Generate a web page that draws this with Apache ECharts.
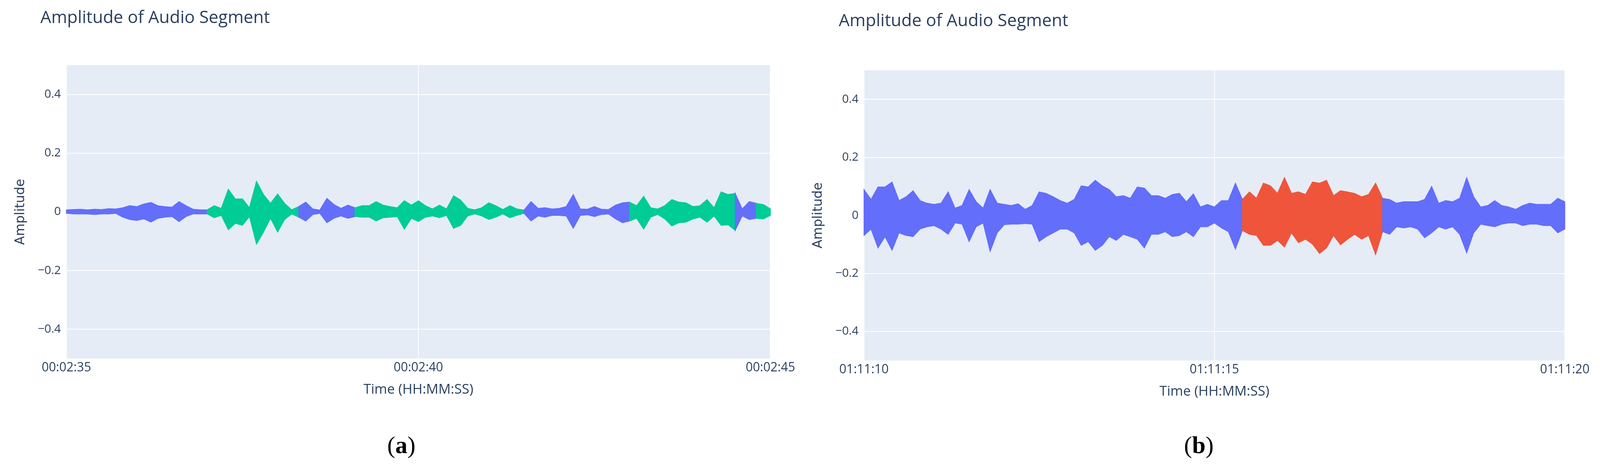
<!DOCTYPE html>
<html>
<head>
<meta charset="utf-8">
<script src="https://cdn.jsdelivr.net/npm/echarts@6/dist/echarts.min.js"></script>
<style>
  html, body { margin: 0; padding: 0; background: #fff; overflow: hidden; }
  #main { width: 100vw; height: 100vh; }
</style>
</head>
<body>
<div id="main"></div>
<script>
// sample times in seconds from the start of each window (0.1 s steps)
var times = [];
for (var i = 0; i <= 100; i++) times.push(+(i / 10).toFixed(1));

// panel (a): envelope
var upperA = [.007,.008,.009,.007,.009,.008,.011,.010,.014,.021,.018,.027,.032,.021,.018,.016,.035,.021,.009,.007,
  .007,.021,.012,.077,.044,.044,.014,.104,.059,.029,.061,.029,.007,.018,.033,.010,.006,.046,.025,.012,
  .023,.014,.021,.021,.035,.023,.018,.014,.038,.023,.038,.021,.010,.023,.010,.055,.040,.012,.007,.014,
  .031,.021,.008,.021,.010,.006,.035,.012,.014,.010,.012,.018,.059,.010,.009,.018,.009,.008,.023,.031,
  .033,.021,.053,.014,.010,.021,.042,.033,.031,.018,.021,.042,.014,.068,.059,.063,.010,.035,.029,.025,.010];
var lowerA = [-.005,-.007,-.007,-.007,-.009,-.007,-.007,-.005,-.018,-.026,-.029,-.024,-.035,-.022,-.018,-.016,-.033,-.016,-.007,-.007,
  -.007,-.020,-.012,-.061,-.039,-.046,-.016,-.110,-.069,-.022,-.069,-.026,-.007,-.018,-.031,-.009,-.005,-.037,-.022,-.014,
  -.022,-.016,-.018,-.018,-.031,-.020,-.018,-.016,-.059,-.022,-.033,-.018,-.014,-.020,-.012,-.056,-.046,-.014,-.007,-.014,
  -.026,-.018,-.007,-.020,-.012,-.005,-.031,-.014,-.018,-.012,-.012,-.014,-.056,-.012,-.010,-.016,-.009,-.007,-.024,-.037,
  -.031,-.022,-.059,-.018,-.009,-.024,-.048,-.037,-.035,-.024,-.018,-.035,-.014,-.046,-.044,-.063,-.014,-.026,-.022,-.024,-.012];
// [start, end, colour index] in seconds
var segmentsA = [[0, 2.0, 0], [2.0, 3.3, 1], [3.3, 4.1, 0], [4.1, 6.5, 1], [6.5, 8.0, 0], [8.0, 9.5, 1], [9.5, 9.8, 0], [9.8, 10, 1]];
var ticksA = ['00:02:35', '00:02:40', '00:02:45'];

// panel (b)
var upperB = [.089,.055,.098,.098,.115,.051,.064,.085,.051,.042,.038,.042,.081,.025,.034,.089,.047,.025,.089,.042,
  .038,.034,.040,.021,.034,.081,.076,.064,.051,.042,.055,.102,.098,.121,.102,.089,.064,.068,.059,.098,
  .094,.068,.068,.059,.072,.076,.047,.074,.029,.038,.029,.051,.051,.111,.055,.081,.059,.111,.102,.076,
  .130,.076,.081,.072,.115,.111,.121,.068,.085,.081,.076,.064,.072,.111,.059,.055,.042,.047,.047,.047,
  .055,.100,.042,.051,.047,.059,.130,.064,.029,.034,.051,.034,.029,.021,.034,.042,.038,.038,.038,.059,.047];
var lowerB = [-.069,-.047,-.112,-.073,-.120,-.060,-.069,-.073,-.047,-.039,-.035,-.047,-.065,-.026,-.030,-.090,-.039,-.026,-.124,-.060,
  -.032,-.030,-.030,-.028,-.030,-.090,-.073,-.060,-.047,-.047,-.060,-.103,-.090,-.120,-.103,-.073,-.086,-.065,-.073,-.082,
  -.112,-.065,-.065,-.056,-.073,-.069,-.056,-.073,-.039,-.039,-.026,-.043,-.056,-.116,-.052,-.065,-.069,-.103,-.103,-.086,
  -.109,-.060,-.094,-.082,-.099,-.131,-.112,-.069,-.101,-.082,-.065,-.082,-.069,-.135,-.056,-.065,-.039,-.043,-.039,-.047,
  -.077,-.060,-.039,-.047,-.039,-.065,-.129,-.060,-.030,-.035,-.039,-.030,-.026,-.026,-.035,-.030,-.030,-.035,-.035,-.060,-.047];
var segmentsB = [[0, 5.4, 0], [5.4, 7.4, 2], [7.4, 10, 0]];
var ticksB = ['01:11:10', '01:11:15', '01:11:20'];

var colors = ['#636efa', '#00cc96', '#ef553b'];
var yTicks = [-0.4, -0.2, 0, 0.2, 0.4];
var textColor = '#2a3f5f';

var chartDom = document.getElementById('main');
var myChart = echarts.init(chartDom);

// one filled band (upper envelope forward, lower envelope back) per coloured segment
function bandSeries(upper, lower, segments, gi) {
  return {
    type: 'custom', xAxisIndex: gi, yAxisIndex: gi, silent: true,
    data: segments.map(function (s) { return [s[0], s[1], s[2]]; }),
    encode: { x: [0, 1], y: -1 },
    renderItem: function (params, api) {
      var seg = segments[params.dataIndex];
      var top = [], bot = [];
      times.forEach(function (t, i) {
        if (t >= seg[0] - 1e-9 && t <= seg[1] + 1e-9) {
          top.push(api.coord([t, upper[i]]));
          bot.unshift(api.coord([t, lower[i]]));
        }
      });
      var c = colors[seg[2]];
      return {
        type: 'polygon',
        shape: { points: top.concat(bot) },
        style: { fill: c, stroke: c, lineWidth: 2 }
      };
    }
  };
}

function xAxis(gi, labels) {
  return {
    type: 'value', gridIndex: gi, min: 0, max: 10, interval: 5,
    name: 'Time (HH:MM:SS)', nameLocation: 'middle', nameGap: 62,
    nameTextStyle: { color: textColor, fontSize: 35, fontFamily: 'Open Sans' },
    axisLine: { show: false }, axisTick: { show: false },
    axisLabel: {
      color: textColor, fontSize: 32, fontFamily: 'Open Sans', margin: 8,
      formatter: function (v) { return labels[Math.round(v / 5)]; }
    },
    splitLine: { lineStyle: { color: '#fff', width: 2 } }
  };
}

function yAxis(gi) {
  return {
    type: 'value', gridIndex: gi, min: -0.5, max: 0.5,
    name: 'Amplitude', nameLocation: 'middle', nameGap: 100,
    nameTextStyle: { color: textColor, fontSize: 33, fontFamily: 'DejaVu Sans' },
    axisLine: { show: false },
    axisTick: { show: false, customValues: yTicks },
    axisLabel: {
      color: textColor, fontSize: 30, fontFamily: 'Open Sans', margin: 14,
      customValues: yTicks,
      formatter: function (v) { return v === 0 ? '0' : (v < 0 ? '\u2212' + Math.abs(v) : '' + v); }
    },
    splitLine: { lineStyle: { color: '#fff', width: 2 } }
  };
}

var option = {
  backgroundColor: '#fff',
  animation: false,
  title: [
    { text: 'Amplitude of Audio Segment', left: '2.4%', top: '1.6%',
      textStyle: { color: textColor, fontSize: 44, fontWeight: 'normal', fontFamily: 'Open Sans' } },
    { text: 'Amplitude of Audio Segment', left: '52.3%', top: '2.3%',
      textStyle: { color: textColor, fontSize: 44, fontWeight: 'normal', fontFamily: 'Open Sans' } }
  ],
  grid: [
    { left: '4.15%', right: '51.85%', top: '13.7%', bottom: '24.5%', backgroundColor: '#e5ecf6', show: true, borderWidth: 0 },
    { left: '54.0%', right: '2.2%', top: '14.8%', bottom: '24.1%', backgroundColor: '#e5ecf6', show: true, borderWidth: 0 }
  ],
  xAxis: [xAxis(0, ticksA), xAxis(1, ticksB)],
  yAxis: [yAxis(0), yAxis(1)],
  series: [bandSeries(upperA, lowerA, segmentsA, 0), bandSeries(upperB, lowerB, segmentsB, 1)],
  graphic: [
    { type: 'text', left: '24.2%', top: '91.5%', style: { text: '{p|(}{b|a}{p|)}', rich: {
      p: { fontSize: 62, fontFamily: 'Liberation Serif', fill: '#000' },
      b: { fontSize: 62, fontFamily: 'Liberation Serif', fontWeight: 'bold', fill: '#000' } } } },
    { type: 'text', left: '74.0%', top: '91.5%', style: { text: '{p|(}{b|b}{p|)}', rich: {
      p: { fontSize: 62, fontFamily: 'Liberation Serif', fill: '#000' },
      b: { fontSize: 62, fontFamily: 'Liberation Serif', fontWeight: 'bold', fill: '#000' } } } }
  ]
};
option && myChart.setOption(option);
window.addEventListener('resize', function () { myChart.resize(); });
</script>
</body>
</html>
